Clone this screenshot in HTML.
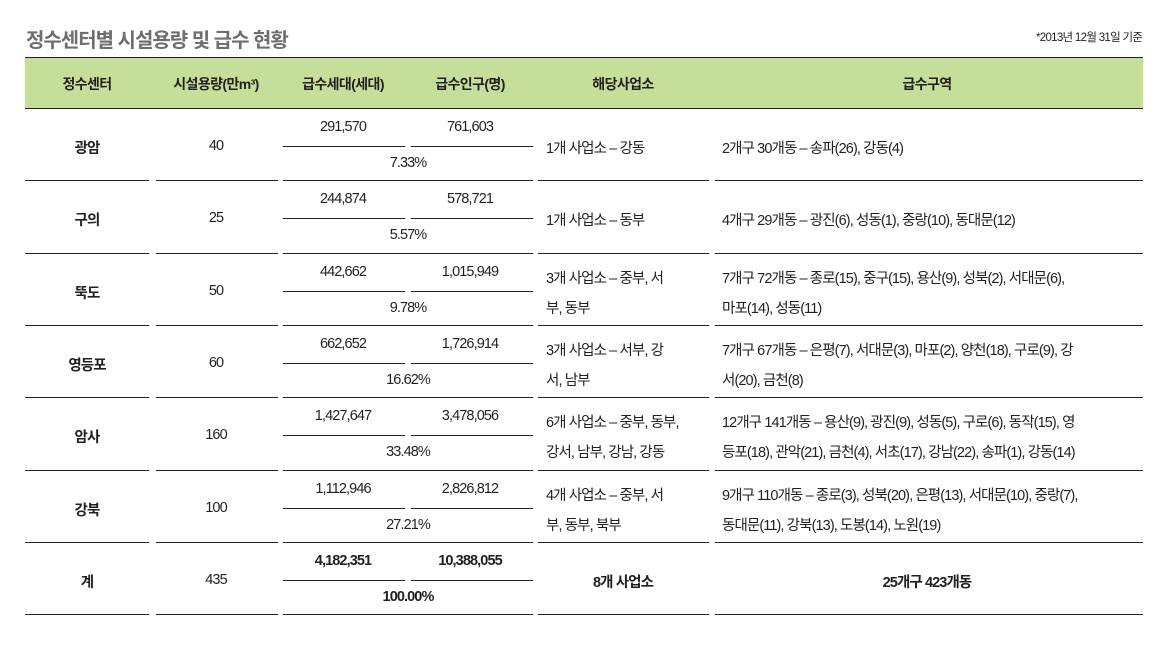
<!DOCTYPE html>
<html><head><meta charset="utf-8">
<style>
body{margin:0;width:1169px;height:648px;background:#fff;position:relative;overflow:hidden;font-family:"Liberation Sans","Noto Sans CJK KR",sans-serif;color:#231f20}
.a{position:absolute;white-space:nowrap}
.ln{position:absolute;height:1px;background:#231f20}
.t{font-size:14.5px;letter-spacing:-0.9px}
.c{transform:translateX(-50%)}
.h{font-size:14px;font-weight:bold;letter-spacing:-0.6px}
</style></head><body>
<div class="a" style="left:26px;top:24px;font-size:20px;font-weight:bold;color:#6d6e71;letter-spacing:-1px">정수센터별 시설용량 및 급수 현황</div>
<div class="a" style="left:1036px;top:29px;font-size:11.5px;letter-spacing:-0.7px">*2013년 12월 31일 기준</div>
<div class="a" style="left:25px;top:57px;width:1118px;height:52px;background:#c5df9b;border-top:1px solid #231f20;border-bottom:1px solid #231f20;box-sizing:border-box"></div>
<div id="tbl"></div>
<script>
const headers=["정수센터","시설용량(만m³)","급수세대(세대)","급수인구(명)","해당사업소","급수구역"];
const centers=["광암","구의","뚝도","영등포","암사","강북","계"];
const capacity=["40","25","50","60","160","100","435"];
const households=["291,570","244,874","442,662","662,652","1,427,647","1,112,946","4,182,351"];
const population=["761,603","578,721","1,015,949","1,726,914","3,478,056","2,826,812","10,388,055"];
const share=["7.33%","5.57%","9.78%","16.62%","33.48%","27.21%","100.00%"];
const offices=[["1개 사업소 – 강동"],["1개 사업소 – 동부"],["3개 사업소 – 중부, 서","부, 동부"],["3개 사업소 – 서부, 강","서, 남부"],["6개 사업소 – 중부, 동부,","강서, 남부, 강남, 강동"],["4개 사업소 – 중부, 서","부, 동부, 북부"],["8개 사업소"]];
const areas=[["2개구 30개동 – 송파(26), 강동(4)"],["4개구 29개동 – 광진(6), 성동(1), 중랑(10), 동대문(12)"],["7개구 72개동 – 종로(15), 중구(15), 용산(9), 성북(2), 서대문(6),","마포(14), 성동(11)"],["7개구 67개동 – 은평(7), 서대문(3), 마포(2), 양천(18), 구로(9), 강","서(20), 금천(8)"],["12개구 141개동 – 용산(9), 광진(9), 성동(5), 구로(6), 동작(15), 영","등포(18), 관악(21), 금천(4), 서초(17), 강남(22), 송파(1), 강동(14)"],["9개구 110개동 – 종로(3), 성북(20), 은평(13), 서대문(10), 중랑(7),","동대문(11), 강북(13), 도봉(14), 노원(19)"],["25개구 423개동"]];
const root=document.body;
function txt(s,x,y,cls,center){const d=document.createElement('div');d.className='a '+cls+(center?' c':'');d.style.left=x+'px';d.style.top=Math.round(y)+'px';d.textContent=s;root.appendChild(d);return d;}
function line(x1,x2,y){const d=document.createElement('div');d.className='ln';d.style.left=x1+'px';d.style.width=(x2-x1)+'px';d.style.top=Math.round(y)+'px';


root.appendChild(d);}
const hx=[87,216,343,470,623,927];
headers.forEach((h,i)=>{const e=txt(h,hx[i],74,'h',true);

});
const rowH=72.3,top0=109;
centers.forEach((c,i)=>{
 const y=top0+i*rowH, tot=i===6;
 let e=txt(c,87,y+28,'t',true);e.style.fontWeight='bold';
 
 
 e=txt(capacity[i],216,y+29,'t',true);
 
 
 e=txt(households[i],343,y+10,'t',true);if(tot)e.style.fontWeight='bold';
 
 
 e=txt(population[i],470,y+10,'t',true);if(tot)e.style.fontWeight='bold';
 
 
 e=txt(share[i],408,y+46,'t',true);if(tot)e.style.fontWeight='bold';
 
 
 line(283,405,y+37);line(411,533,y+37);
 const o=offices[i],a=areas[i];
 o.forEach((s,k)=>{const ty=o.length===1?y+28:y+13+k*30;const el=tot?txt(s,623,ty,'t',true):txt(s,546,ty,'t',false);if(tot)el.style.fontWeight='bold';
  
  });
 a.forEach((s,k)=>{const ty=a.length===1?y+28:y+13+k*30;const el=tot?txt(s,927,ty,'t',true):txt(s,722,ty,'t',false);if(tot)el.style.fontWeight='bold';
  
  });
 const by=y+rowH-1;
 line(25,149,by);line(156,278,by);line(283,533,by);line(538,709,by);line(715,1143,by);
});
</script>
</body></html>
